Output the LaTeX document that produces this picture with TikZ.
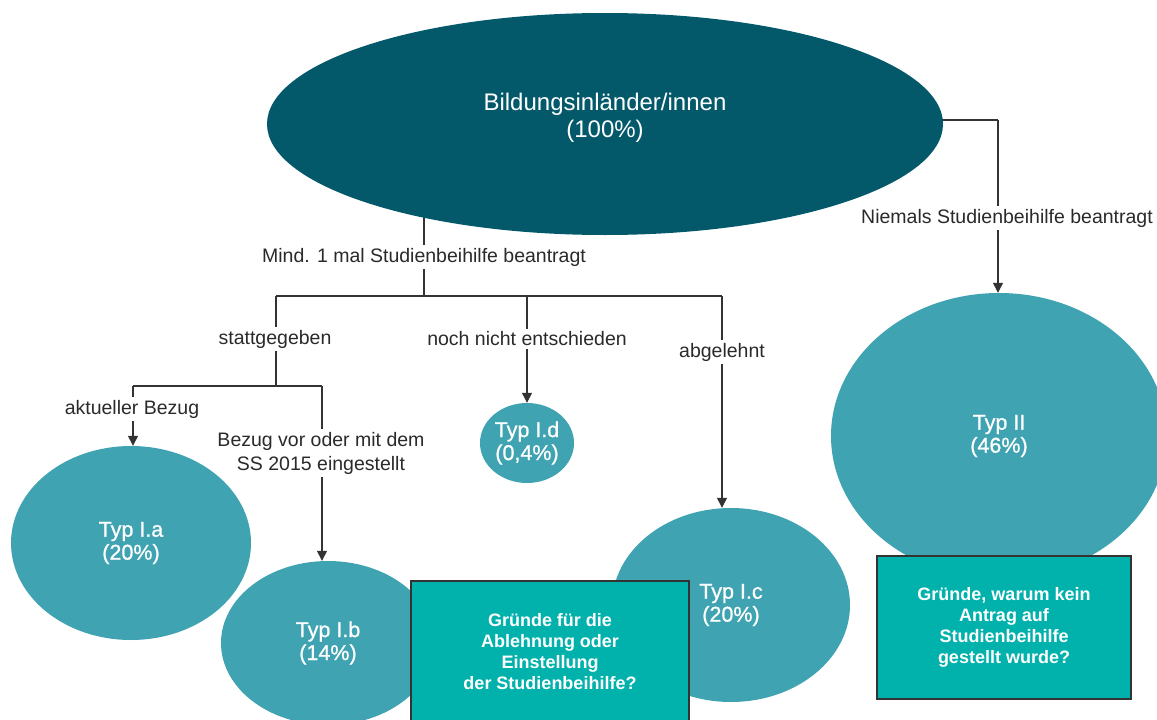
\documentclass[tikz,border=0pt]{standalone}
\usepackage{fontspec}
\setmainfont{Liberation Sans}
\newfontfamily\medfont{Liberation Sans}[FakeBold=0.9]
\usetikzlibrary{shapes.geometric,arrows.meta,backgrounds}
\definecolor{topc}{HTML}{03596A}
\definecolor{typc}{HTML}{3FA3B2}
\definecolor{boxc}{HTML}{00B1AC}
\definecolor{linec}{HTML}{333333}
\definecolor{labc}{HTML}{2A2A2A}
\tikzset{
  topell/.style={ellipse, fill=topc, inner sep=0pt},
  toptext/.style={text=white, align=center, font=\fontsize{24}{27}\selectfont, inner sep=0pt},
  typ/.style={ellipse, fill=typc, inner sep=0pt, text=white, align=center, font=\medfont\fontsize{21.5}{23}\selectfont},
  qbox/.style={rectangle, fill=boxc, draw=linec, line width=2pt, text=white, align=center, inner sep=0pt, font=\bfseries\fontsize{18}{21}\selectfont},
  conn/.style={draw=linec, line width=1.3pt},
  arr/.style={conn, -{Triangle[length=10pt,width=10pt]}},
  lab/.style={fill=white, text=labc, align=center, inner sep=2.5pt, font=\fontsize{19.5}{24}\selectfont}
}
\begin{document}
\begin{tikzpicture}[x=1pt,y=-1pt]
\useasboundingbox (0,0) rectangle (1157,720);
% nodes
\node[topell, minimum width=676pt, minimum height=222pt] (top) at (605,124) {};
\node[toptext] (toplbl) at (605,118) {Bildungsinländer/innen\\(100\%)};
\node[typ, minimum width=336pt, minimum height=286pt] (t2) at (999,436) {Typ II\\(46\%)};
\node[typ, minimum width=240pt, minimum height=194pt] (tIa) at (131,543) {Typ I.a\\(20\%)};
\node[typ, minimum width=214pt, minimum height=164pt] (tIb) at (328,643) {Typ I.b\\(14\%)};
\node[typ, minimum width=238pt, minimum height=194pt] (tIc) at (731,605) {Typ I.c\\(20\%)};
\node[typ, minimum width=94pt, minimum height=80pt] (tId) at (527,443) {Typ I.d\\(0,4\%)};
\node[qbox, minimum width=278pt, minimum height=141pt] (q1) at (550,651.5) {Gründe für die\\Ablehnung oder\\Einstellung\\der Studienbeihilfe?};
\node[qbox, minimum width=254pt, minimum height=143pt] (q2) at (1004,627.5) {Gründe, warum kein\\Antrag auf\\Studienbeihilfe\\gestellt wurde?};
% junctions
\coordinate (j0) at (424,296);
\coordinate (ja) at (276,296);
\coordinate (jd) at (527,296);
\coordinate (jc) at (722,296);
\coordinate (jb) at (276,386);
\coordinate (jb1) at (133,386);
\coordinate (jb2) at (322,386);
\coordinate (jr) at (998,120);
\begin{scope}[on background layer]
\draw[conn] (j0 |- top.center) -- (j0);
\draw[conn] (ja) -- (jc);
\draw[conn] (ja) -- (jb);
\draw[conn] (jb1) -- (jb2);
\draw[arr] (jb1) -- (jb1 |- tIa.north);
\draw[arr] (jb2) -- (jb2 |- tIb.north);
\draw[arr] (jd) -- (tId.north);
\draw[arr] (jc) -- (jc |- tIc.north);
\draw[conn] (top.center |- jr) -- (jr);
\draw[arr] (jr) -- (jr |- t2.north);
\node[lab] (lmind) at (424,257) {Mind. 1 mal Studienbeihilfe beantragt};
\node[lab] (lstatt) at (275,339) {stattgegeben};
\node[lab] (lnoch) at (527,339) {noch nicht entschieden};
\node[lab] (labg) at (722,352) {abgelehnt};
\node[lab] (lakt) at (132,409) {aktueller Bezug};
\node[lab] (lbez) at (321,453) {Bezug vor oder mit dem\\SS 2015 eingestellt};
\node[lab] (lnie) at (1007,218) {Niemals Studienbeihilfe beantragt};
\end{scope}
\end{tikzpicture}
\end{document}
